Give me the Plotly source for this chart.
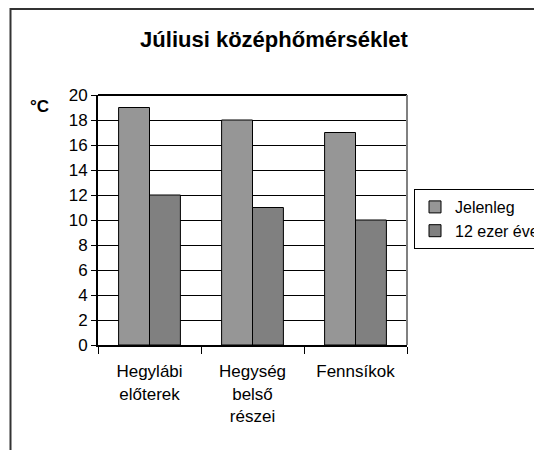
import plotly.graph_objects as go

categories = ["Hegylábi<br>előterek", "Hegység<br>belső<br>részei", "Fennsíkok"]
series_names = ["Jelenleg", "12 ezer éve"]
jelenleg = [19, 18, 17]
ezer12 = [12, 11, 10]
y_ticks = [0, 2, 4, 6, 8, 10, 12, 14, 16, 18, 20]

# page has an 8px body margin: figure coords = window coords - 8
OFF = 8
W, H = 542 - OFF, 450 - OFF
L, T = 98 - OFF, 95 - OFF
R = W - (407 - OFF)
B = H - (345 - OFF)
pw, ph = W - L - R, H - T - B

def px(x):
    return (x - OFF - L) / pw

def py(y):
    return (H - B - (y - OFF)) / ph

fig = go.Figure()
fig.add_trace(go.Bar(x=categories, y=jelenleg, name=series_names[0],
                     marker=dict(color="#969696", line=dict(color="black", width=1))))
fig.add_trace(go.Bar(x=categories, y=ezer12, name=series_names[1],
                     marker=dict(color="#808080", line=dict(color="black", width=1))))

fig.update_layout(
    width=W, height=H,
    margin=dict(l=L, r=R, t=T, b=B, autoexpand=False),
    paper_bgcolor="white", plot_bgcolor="white",
    font=dict(family="Liberation Sans, Arial", size=17, color="black"),
    barmode="group", bargap=0.4, bargroupgap=0,
    title=dict(text="<b>Júliusi középhőmérséklet</b>", x=(274 - OFF) / W, xref="container",
               xanchor="center", y=1 - (39 - OFF) / H, yanchor="middle",
               font=dict(size=22, color="black")),
    xaxis=dict(showline=True, linecolor="black", linewidth=2, ticks="outside",
               tickson="boundaries", ticklen=7, tickcolor="black",
               mirror=False, showgrid=False, ticklabelstandoff=10),
    yaxis=dict(range=[0, 20], tickvals=y_ticks, showline=True, linecolor="black",
               linewidth=2, ticks="outside", ticklen=5, tickcolor="black",
               showgrid=True, gridcolor="black", gridwidth=1, zeroline=False),
    legend=dict(x=px(414), y=py(189), xanchor="left", yanchor="top",
                bordercolor="black", borderwidth=1, bgcolor="white",
                font=dict(size=16), itemwidth=30, tracegroupgap=0),
    showlegend=True,
)

# outer chart border (top edge sits at the very top of the figure)
fig.add_shape(type="line", xref="paper", yref="paper",
              x0=px(10), x1=px(560), y0=py(9), y1=py(9),
              line=dict(color="#333333", width=2))
fig.add_shape(type="line", xref="paper", yref="paper",
              x0=px(10.5), x1=px(10.5), y0=py(8), y1=py(470),
              line=dict(color="#333333", width=2))
# top border of plot area (thick) and right side (gray)
fig.add_shape(type="line", xref="paper", yref="paper", x0=0, x1=1, y0=1, y1=1,
              line=dict(color="black", width=2))
fig.add_shape(type="line", xref="paper", yref="paper", x0=1, x1=1, y0=0, y1=1,
              line=dict(color="#808080", width=2))

fig.add_annotation(text="<b>°C</b>", xref="paper", yref="paper",
                   x=px(39), y=py(106), xanchor="center", yanchor="middle",
                   showarrow=False, font=dict(size=17, color="black"))

fig.write_html("out.html")
